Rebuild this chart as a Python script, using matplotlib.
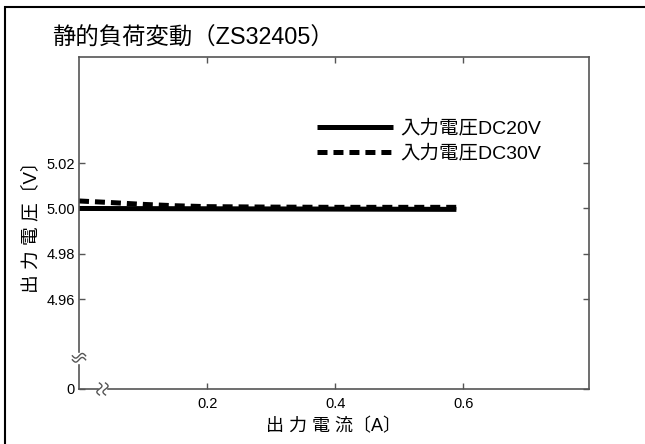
import numpy as np
import matplotlib
matplotlib.use("Agg")
import matplotlib.pyplot as plt
from matplotlib.patches import Rectangle

plt.rcParams["font.family"] = ["Liberation Sans", "Noto Sans CJK JP", "DejaVu Sans"]
plt.rcParams["lines.scale_dashes"] = False

TITLE = "静的負荷変動（ZS32405）"
X_LABEL = "出 力 電 流〔A〕"
Y_LABEL = "出 力 電 圧〔V〕"
SERIES_NAMES = ["入力電圧DC20V", "入力電圧DC30V"]

# load current (A) and output voltage (V)
current_20v = [0.0, 0.589]
voltage_20v = [5.0000, 4.9996]
current_30v = [0.0, 0.05, 0.1, 0.15, 0.2, 0.3, 0.4, 0.5, 0.589]
voltage_30v = [5.0033, 5.0026, 5.0018, 5.0012, 5.0008, 5.0006, 5.0005, 5.0005, 5.0005]

X_TICKS = [0.2, 0.4, 0.6]
Y_TICKS = [4.96, 4.98, 5.00, 5.02]
Y_BOTTOM = 4.9205  # broken axis: drawn as "0"
Y_TOP = 5.0667
X_RIGHT = 0.796

SPINE = "#555555"

fig = plt.figure(figsize=(6.45, 4.44), dpi=100)
ax = fig.add_axes([79 / 645, 1 - 389 / 444, 510 / 645, 332 / 444])

ax.plot(current_20v, voltage_20v, color="black", lw=3.6, solid_capstyle="butt",
        label=SERIES_NAMES[0])
ax.plot(current_30v, voltage_30v, color="black", lw=3.6, dashes=(7.2, 4.3),
        dash_capstyle="butt", label=SERIES_NAMES[1])

ax.set_xlim(0, X_RIGHT)
ax.set_ylim(Y_BOTTOM, Y_TOP)
ax.set_xticks(X_TICKS)
ax.set_xticklabels([f"{v:.1f}" for v in X_TICKS])
ax.set_yticks([Y_BOTTOM] + Y_TICKS)
ax.set_yticklabels(["0"] + [f"{v:.2f}" for v in Y_TICKS])
ax.tick_params(direction="in", length=4, width=1, color=SPINE, labelsize=10.5,
               top=True, right=True)
ax.tick_params(axis="x", pad=6)
ax.tick_params(axis="y", pad=3)
for s in ax.spines.values():
    s.set_color(SPINE)
    s.set_linewidth(1.2)

ax.set_xlabel(X_LABEL, fontsize=13, labelpad=5)
ax.set_ylabel(Y_LABEL, fontsize=13.5, labelpad=4)

# axis break marks
t = np.linspace(-1, 1, 40)
ax.add_patch(Rectangle((-0.02, 0.078), 0.04, 0.03, transform=ax.transAxes,
                       color="white", clip_on=False, zorder=5))
for yc in (0.088, 0.100):
    ax.plot(0.013 * t, yc + 0.007 * np.sin(np.pi * t), transform=ax.transAxes,
            color=SPINE, lw=1, clip_on=False, zorder=6)
ax.add_patch(Rectangle((0.040, -0.02), 0.012, 0.04, transform=ax.transAxes,
                       color="white", clip_on=False, zorder=5))
for xc in (0.040, 0.052):
    ax.plot(xc + 0.005 * np.sin(np.pi * t), 0.018 * t, transform=ax.transAxes,
            color=SPINE, lw=1, clip_on=False, zorder=6)

ax.legend(loc="upper left", bbox_to_anchor=(317 / 645, 1 - 120 / 444),
          bbox_transform=fig.transFigure, frameon=False, fontsize=14,
          handlelength=3.9, handletextpad=0.4, labelspacing=0.35,
          borderpad=0, borderaxespad=0)

fig.text(52 / 645, 1 - 38 / 444, TITLE, fontsize=16.8, va="center", ha="left")

# outer frame (left and top edges visible)
fig.add_artist(Rectangle((5 / 645, -0.1), 1.2, 1 - 7 / 444 + 0.1,
                         transform=fig.transFigure, fill=False, lw=1.5,
                         edgecolor="black"))

fig.savefig("out.png", dpi=100)
